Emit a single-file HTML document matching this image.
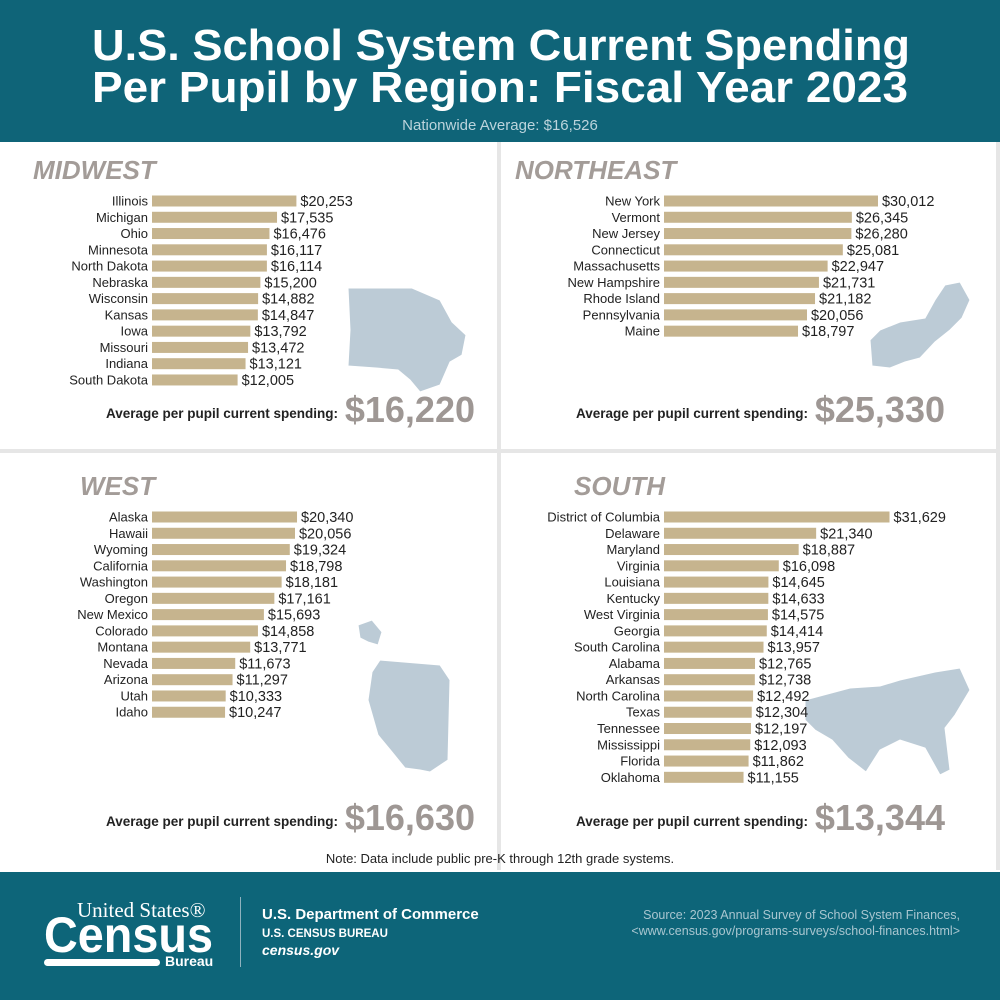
<!DOCTYPE html>
<html><head><meta charset="utf-8"><style>
body{margin:0;width:1000px;height:1000px;overflow:hidden;background:#fff;font-family:"Liberation Sans",sans-serif}
svg{display:block}
</style></head><body>
<svg id="chart" width="1000" height="1000" viewBox="0 0 1000 1000" xmlns="http://www.w3.org/2000/svg" font-family="Liberation Sans, sans-serif">
<rect x="0" y="0" width="1000" height="142" fill="#0f6478"/>
<text x="92" y="60" textLength="818" lengthAdjust="spacingAndGlyphs" fill="#fff" font-size="44" font-weight="bold">U.S. School System Current Spending</text>
<text x="92" y="102" textLength="816" lengthAdjust="spacingAndGlyphs" fill="#fff" font-size="44" font-weight="bold">Per Pupil by Region: Fiscal Year 2023</text>
<text x="500" y="130" text-anchor="middle" fill="#bcd4dc" font-size="15">Nationwide Average: $16,526</text>
<rect x="497" y="142" width="4" height="728" fill="#e6e6e6"/>
<rect x="0" y="449" width="1000" height="4" fill="#e6e6e6"/>
<rect x="996" y="142" width="4" height="728" fill="#e6e6e6"/>
<g id="maps" fill="#bccbd6" stroke="#fff" stroke-width="1">
<polygon points="348,288 412,288 440,300 452,322 466,335 462,355 450,362 440,385 420,392 410,380 398,370 376,368 348,366 350,330"/>
<polygon points="870,340 880,330 900,322 925,318 935,300 945,285 960,282 970,300 962,318 950,330 935,342 920,358 905,362 890,368 872,366"/>
<polygon points="380,660 440,665 450,680 448,760 430,772 420,770 405,768 392,752 378,735 368,700 372,672"/>
<polygon points="358,625 372,620 382,632 378,645 368,642 360,638"/>
<polygon points="805,700 850,688 880,686 900,680 935,672 960,668 970,690 955,715 945,728 950,770 940,775 925,748 900,740 880,750 866,772 848,758 832,740 815,730 805,720"/>
</g>
<g id="panels"></g>
<text x="500" y="863" text-anchor="middle" fill="#222" font-size="13">Note: Data include public pre-K through 12th grade systems.</text>
<rect x="0" y="872" width="1000" height="128" fill="#0d6579"/>
<text x="77" y="917" fill="#fff" font-size="21" font-family="Liberation Serif, serif">United States®</text>
<text x="44" y="952" textLength="169" lengthAdjust="spacingAndGlyphs" fill="#fff" font-size="50" font-weight="bold">Census</text>
<rect x="44" y="959" width="116" height="7" rx="3.5" fill="#fff"/>
<text x="165" y="966" fill="#fff" font-size="14" font-weight="bold">Bureau</text>
<rect x="240" y="897" width="1" height="70" fill="#8fb2be"/>
<text x="262" y="919" fill="#fff" font-size="15" font-weight="bold">U.S. Department of Commerce</text>
<text x="262" y="937" fill="#fff" font-size="11.5" font-weight="bold">U.S. CENSUS BUREAU</text>
<text x="262" y="955" fill="#fff" font-size="14" font-weight="bold" font-style="italic">census.gov</text>
<text x="960" y="919" text-anchor="end" fill="#a9c6d0" font-size="12.5">Source: 2023 Annual Survey of School System Finances,</text>
<text x="960" y="935" text-anchor="end" fill="#a9c6d0" font-size="12.5">&lt;www.census.gov/programs-surveys/school-finances.html&gt;</text>
</svg>
<script>
const midwestStates=["Illinois","Michigan","Ohio","Minnesota","North Dakota","Nebraska","Wisconsin","Kansas","Iowa","Missouri","Indiana","South Dakota"];
const midwestValues=[20253,17535,16476,16117,16114,15200,14882,14847,13792,13472,13121,12005];
const northeastStates=["New York","Vermont","New Jersey","Connecticut","Massachusetts","New Hampshire","Rhode Island","Pennsylvania","Maine"];
const northeastValues=[30012,26345,26280,25081,22947,21731,21182,20056,18797];
const westStates=["Alaska","Hawaii","Wyoming","California","Washington","Oregon","New Mexico","Colorado","Montana","Nevada","Arizona","Utah","Idaho"];
const westValues=[20340,20056,19324,18798,18181,17161,15693,14858,13771,11673,11297,10333,10247];
const southStates=["District of Columbia","Delaware","Maryland","Virginia","Louisiana","Kentucky","West Virginia","Georgia","South Carolina","Alabama","Arkansas","North Carolina","Texas","Tennessee","Mississippi","Florida","Oklahoma"];
const southValues=[31629,21340,18887,16098,14645,14633,14575,14414,13957,12765,12738,12492,12304,12197,12093,11862,11155];
const regionNames=["MIDWEST","NORTHEAST","WEST","SOUTH"];
const regionAverages=["$16,220","$25,330","$16,630","$13,344"];

const NS="http://www.w3.org/2000/svg";
const g=document.getElementById('panels');
const xScale=v=>v*0.00713;
function mk(tag,attrs,txt){const e=document.createElementNS(NS,tag);for(const k in attrs)e.setAttribute(k,attrs[k]);if(txt!=null)e.textContent=txt;g.appendChild(e);return e;}
const fmt=v=>"$"+v.toLocaleString("en-US");
const cfg=[
 {states:midwestStates,values:midwestValues,x0:152,y0:201,tx:33,ty:179,avgX:475,avgY:422},
 {states:northeastStates,values:northeastValues,x0:664,y0:201,tx:515,ty:179,avgX:945,avgY:422},
 {states:westStates,values:westValues,x0:152,y0:517,tx:80,ty:495,avgX:475,avgY:830},
 {states:southStates,values:southValues,x0:664,y0:517,tx:574,ty:495,avgX:945,avgY:830}
];
cfg.forEach((c,ri)=>{
 const t=mk('text',{x:c.tx,y:c.ty,fill:'#a39c98','font-size':26,'font-weight':'bold','font-style':'italic'},regionNames[ri]);
 
 
 c.states.forEach((s,i)=>{
  const y=c.y0+i*16.27;
  const l=mk('text',{x:c.x0-4,y:y+4.5,'text-anchor':'end',fill:'#222','font-size':13},s);
  
  
  const w=xScale(c.values[i]);
  const b=mk('rect',{x:c.x0,y:y-5.5,width:w,height:11,fill:'#c6b48e'});
  
  
  const v=mk('text',{x:c.x0+w+4,y:y+5,fill:'#222','font-size':14.5},fmt(c.values[i]));
  
  
 });
 const big=mk('text',{x:c.avgX,y:c.avgY,'text-anchor':'end',fill:'#9e9794','font-size':36,'font-weight':'bold'},regionAverages[ri]);
 
 
 const lab=mk('text',{x:c.avgX-137,y:c.avgY-4,'text-anchor':'end',fill:'#222','font-size':13.5,'font-weight':'bold'},'Average per pupil current spending:');
 
 
});
</script>
</body></html>
